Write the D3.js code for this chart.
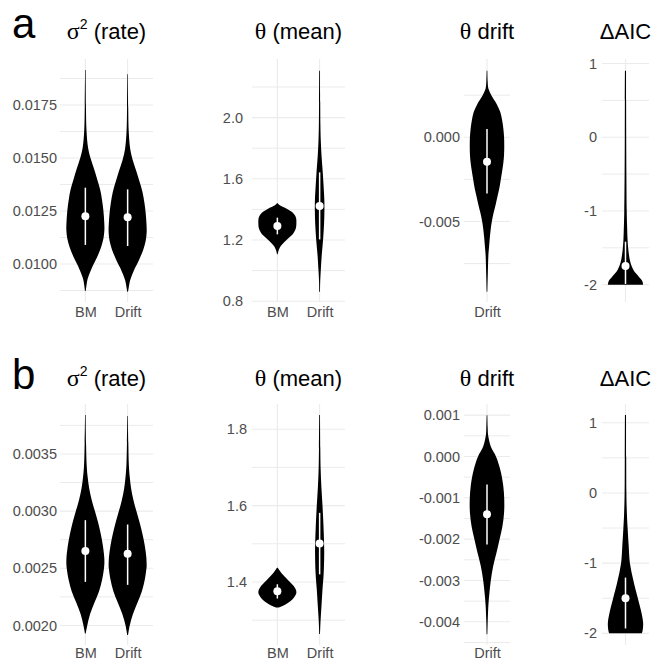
<!DOCTYPE html>
<html>
<head>
<meta charset="utf-8">
<script src="https://cdn.jsdelivr.net/npm/d3@7"></script>
<style>
  body { margin: 0; background: #fff; }
</style>
</head>
<body>
<svg id="fig" width="654" height="661"></svg>
<script>
// ---------- data ----------
// violin outlines: [value, relative half-width]
const rateBM_a = [[0.01915,0.015],[0.0175,0.03],[0.0163,0.06],[0.0155,0.14],[0.0150,0.27],[0.0145,0.45],[0.0140,0.62],[0.0135,0.78],[0.0130,0.88],[0.0125,0.95],[0.0120,0.99],[0.0116,1.0],[0.0112,0.95],[0.0108,0.83],[0.0105,0.70],[0.0102,0.55],[0.0099,0.38],[0.0096,0.24],[0.0093,0.12],[0.0090,0.06],[0.00873,0.02]];
const rateDrift_a = [[0.01895,0.015],[0.0174,0.03],[0.0162,0.06],[0.0154,0.14],[0.0149,0.27],[0.0144,0.45],[0.0139,0.62],[0.0134,0.78],[0.0129,0.88],[0.0124,0.95],[0.0119,0.99],[0.0115,1.0],[0.0111,0.95],[0.0107,0.83],[0.0104,0.70],[0.0101,0.55],[0.0098,0.38],[0.0095,0.24],[0.0092,0.12],[0.0089,0.06],[0.00869,0.02]];
const meanBM_a = [[1.440,0.02],[1.425,0.15],[1.41,0.40],[1.395,0.62],[1.38,0.80],[1.36,0.93],[1.34,0.99],[1.31,1.0],[1.28,0.98],[1.26,0.92],[1.24,0.82],[1.22,0.65],[1.20,0.48],[1.18,0.32],[1.16,0.18],[1.14,0.09],[1.12,0.04],[1.107,0.02]];
const meanDrift_a = [[2.307,0.02],[2.1,0.03],[1.95,0.04],[1.85,0.06],[1.75,0.10],[1.65,0.16],[1.55,0.21],[1.45,0.25],[1.38,0.25],[1.30,0.23],[1.20,0.18],[1.10,0.11],[1.00,0.06],[0.93,0.03],[0.862,0.02]];
const drift_a = [[0.00395,0.02],[0.0033,0.04],[0.0029,0.08],[0.0025,0.25],[0.0020,0.55],[0.0015,0.77],[0.0010,0.88],[0.0005,0.95],[0.0,0.99],[-0.0005,1.0],[-0.0010,0.99],[-0.0015,0.95],[-0.0020,0.88],[-0.0025,0.80],[-0.0030,0.72],[-0.0035,0.61],[-0.0040,0.50],[-0.0045,0.38],[-0.0050,0.28],[-0.0055,0.21],[-0.0060,0.16],[-0.0065,0.12],[-0.0070,0.08],[-0.0080,0.05],[-0.00917,0.02]];
const aic_a = [[0.904,0.03],[0.5,0.035],[0.0,0.04],[-0.5,0.05],[-1.0,0.07],[-1.2,0.09],[-1.4,0.12],[-1.5,0.15],[-1.6,0.20],[-1.7,0.28],[-1.8,0.45],[-1.85,0.60],[-1.9,0.78],[-1.95,0.95],[-2.0,1.0]];

const rateBM_b = [[0.00384,0.015],[0.0036,0.035],[0.0034,0.07],[0.0033,0.12],[0.0032,0.20],[0.0031,0.33],[0.0030,0.50],[0.0029,0.67],[0.0028,0.81],[0.0027,0.92],[0.0026,0.99],[0.00255,1.0],[0.0025,0.98],[0.0024,0.88],[0.0023,0.72],[0.0022,0.48],[0.0021,0.25],[0.0020,0.10],[0.00193,0.02]];
const rateDrift_b = [[0.003833,0.015],[0.0036,0.035],[0.0034,0.065],[0.0033,0.11],[0.0032,0.18],[0.0031,0.30],[0.0030,0.46],[0.0029,0.63],[0.0028,0.78],[0.0027,0.90],[0.0026,0.98],[0.00252,1.0],[0.0025,0.99],[0.0024,0.90],[0.0023,0.75],[0.0022,0.52],[0.0021,0.28],[0.0020,0.11],[0.001916,0.02]];
const meanBM_b = [[1.4375,0.02],[1.430,0.12],[1.420,0.27],[1.410,0.47],[1.400,0.66],[1.390,0.85],[1.380,0.97],[1.372,1.0],[1.365,0.95],[1.355,0.80],[1.345,0.55],[1.338,0.30],[1.333,0.05]];
const meanDrift_b = [[1.837,0.02],[1.75,0.035],[1.70,0.05],[1.65,0.09],[1.60,0.15],[1.55,0.20],[1.50,0.235],[1.47,0.24],[1.42,0.21],[1.38,0.15],[1.34,0.10],[1.30,0.05],[1.2636,0.02]];
const drift_b = [[0.0010,0.02],[0.0007,0.04],[0.0005,0.07],[0.00024,0.22],[0.0,0.52],[-0.00032,0.77],[-0.0007,0.94],[-0.00104,1.0],[-0.00136,0.99],[-0.0017,0.89],[-0.0020,0.73],[-0.00233,0.55],[-0.00265,0.36],[-0.0030,0.22],[-0.0033,0.14],[-0.0036,0.08],[-0.0040,0.04],[-0.0043,0.02]];
const aic_b = [[1.111,0.03],[0.5,0.04],[0.0,0.05],[-0.3,0.08],[-0.5,0.12],[-0.75,0.18],[-1.0,0.25],[-1.25,0.45],[-1.5,0.70],[-1.7,0.90],[-1.85,1.0],[-1.95,0.98],[-2.0,0.93]];

// interval summaries: [lower, median, upper]
const rateStats_a  = {BM: [0.01090, 0.01225, 0.01360], Drift: [0.01085, 0.01220, 0.01352]};
const meanStats_a  = {BM: [1.237, 1.292, 1.346], Drift: [1.204, 1.422, 1.642]};
const driftStats_a = {Drift: [-0.00333, -0.00145, 0.00049]};
const aicStats_a   = {"": [-1.99, -1.746, -1.417]};
const rateStats_b  = {BM: [0.002381, 0.002651, 0.002921], Drift: [0.002355, 0.002628, 0.002883]};
const meanStats_b  = {BM: [1.3567, 1.3757, 1.394], Drift: [1.420, 1.5009, 1.581]};
const driftStats_b = {Drift: [-0.00213, -0.0014, -0.00068]};
const aicStats_b   = {"": [-1.93, -1.5, -1.206]};

const modelCats = ["BM", "Drift"];
const driftCats = ["Drift"];
const aicCats = [""];

// axis ticks
const rateTicks_a = [0.0100, 0.0125, 0.0150, 0.0175];
const rateMinor_a = [0.00875, 0.01125, 0.01375, 0.01625, 0.01875];
const meanTicks_a = [0.8, 1.2, 1.6, 2.0];
const meanMinor_a = [1.0, 1.4, 1.8, 2.2];
const driftTicks_a = [-0.005, 0.000];
const driftMinor_a = [-0.0075, -0.0025, 0.0025];
const aicTicks = [-2, -1, 0, 1];
const aicMinor = [-1.5, -0.5, 0.5];
const rateTicks_b = [0.0020, 0.0025, 0.0030, 0.0035];
const rateMinor_b = [0.00225, 0.00275, 0.00325, 0.00375];
const meanTicks_b = [1.4, 1.6, 1.8];
const meanMinor_b = [1.3, 1.5, 1.7];
const driftTicks_b = [-0.004, -0.003, -0.002, -0.001, 0.000, 0.001];
const driftMinor_b = [-0.0045, -0.0035, -0.0025, -0.0015, -0.0005, 0.0005];

// ---------- layout ----------
const sans = "'Liberation Sans', Arial, Helvetica, sans-serif";
const greek = "'Liberation Serif', 'DejaVu Serif', serif";
const loc = d3.formatLocale({decimal: ".", thousands: ",", grouping: [3], currency: ["", ""], minus: "-"});

const rows = [
  {top: 59, bottom: 302, titleY: 39, tag: "a", tagY: 38, labelPad: 5},
  {top: 404, bottom: 645, titleY: 386, tag: "b", tagY: 389, labelPad: 3}
];
const cols = [{x0: 60, x1: 153}, {x0: 252, x1: 345}, {x0: 464, x1: 510}, {x0: 602, x1: 649}];

const panels = [
  {row: 0, col: 0, title: "rate", cats: modelCats, domain: [0.008208, 0.01967], major: rateTicks_a, minor: rateMinor_a, fmt: ".4f", pad: 3,
   violins: {BM: rateBM_a, Drift: rateDrift_a}, stats: rateStats_a},
  {row: 0, col: 1, title: "mean", cats: modelCats, domain: [0.7948, 2.383], major: meanTicks_a, minor: meanMinor_a, fmt: ".1f", pad: 9,
   violins: {BM: meanBM_a, Drift: meanDrift_a}, stats: meanStats_a},
  {row: 0, col: 2, title: "drift", cats: driftCats, domain: [-0.00978, 0.00465], major: driftTicks_a, minor: driftMinor_a, fmt: ".3f", pad: 4,
   violins: {Drift: drift_a}, stats: driftStats_a},
  {row: 0, col: 3, title: "aic", cats: aicCats, domain: [-2.235, 1.062], major: aicTicks, minor: aicMinor, fmt: "d", pad: 5,
   violins: {"": aic_a}, stats: aicStats_a},
  {row: 1, col: 0, title: "rate", cats: modelCats, domain: [0.001829, 0.003937], major: rateTicks_b, minor: rateMinor_b, fmt: ".4f", pad: 3,
   violins: {BM: rateBM_b, Drift: rateDrift_b}, stats: rateStats_b},
  {row: 1, col: 1, title: "mean", cats: modelCats, domain: [1.235, 1.866], major: meanTicks_b, minor: meanMinor_b, fmt: ".1f", pad: 5,
   violins: {BM: meanBM_b, Drift: meanDrift_b}, stats: meanStats_b},
  {row: 1, col: 2, title: "drift", cats: driftCats, domain: [-0.004561, 0.00127], major: driftTicks_b, minor: driftMinor_b, fmt: ".3f", pad: 4,
   violins: {Drift: drift_b}, stats: driftStats_b},
  {row: 1, col: 3, title: "aic", cats: aicCats, domain: [-2.166, 1.267], major: aicTicks, minor: aicMinor, fmt: "d", pad: 5,
   violins: {"": aic_b}, stats: aicStats_b}
];

const svg = d3.select("#fig");
const gridColor = "#ebebeb";

function addTitle(sel, kind) {
  const t = sel.append("text").attr("text-anchor", "middle").attr("fill", "#000")
    .style("font-family", sans).style("font-size", "22px");
  if (kind === "rate") {
    t.append("tspan").style("font-family", greek).style("font-size", "24px").text("σ");
    t.append("tspan").attr("dy", -10).style("font-size", "14px").text("2");
    t.append("tspan").attr("dy", 10).text(" (rate)");
  } else if (kind === "mean") {
    t.append("tspan").style("font-family", greek).style("font-size", "24px").text("θ");
    t.append("tspan").text(" (mean)");
  } else if (kind === "drift") {
    t.append("tspan").style("font-family", greek).style("font-size", "24px").text("θ");
    t.append("tspan").text(" drift");
  } else {
    t.append("tspan").text("ΔAIC");
  }
  return t;
}

rows.forEach(r => {
  svg.append("text").attr("x", 12).attr("y", r.tagY)
    .style("font-family", sans).style("font-size", "42px").attr("fill", "#000").text(r.tag);
});

panels.forEach(p => {
  const row = rows[p.row], col = cols[p.col];
  const g = svg.append("g");

  const x = d3.scalePoint().domain(p.cats).range([col.x0, col.x1]).padding(0.6);
  const y = d3.scaleLinear().domain(p.domain).range([row.bottom, row.top]);
  const w = d3.scaleLinear().domain([0, 1]).range([0, 0.45 * x.step()]);

  // grid
  g.append("g").selectAll("line").data(p.minor).join("line")
    .attr("x1", col.x0).attr("x2", col.x1)
    .attr("y1", d => y(d)).attr("y2", d => y(d))
    .attr("stroke", gridColor).attr("stroke-width", 1);
  g.append("g").selectAll("line").data(p.major).join("line")
    .attr("x1", col.x0).attr("x2", col.x1)
    .attr("y1", d => y(d)).attr("y2", d => y(d))
    .attr("stroke", gridColor).attr("stroke-width", 1.1);
  g.append("g").selectAll("line").data(p.cats).join("line")
    .attr("x1", d => x(d)).attr("x2", d => x(d))
    .attr("y1", row.top).attr("y2", row.bottom)
    .attr("stroke", gridColor).attr("stroke-width", 1.1);

  // axes
  const yAxis = g.append("g").attr("transform", `translate(${col.x0},0)`)
    .call(d3.axisLeft(y).tickValues(p.major).tickFormat(loc.format(p.fmt)).tickSize(0).tickPadding(p.pad));
  const xAxis = g.append("g").attr("transform", `translate(0,${row.bottom})`)
    .call(d3.axisBottom(x).tickSize(0).tickPadding(row.labelPad));
  [yAxis, xAxis].forEach(a => {
    a.select(".domain").remove();
    a.attr("font-family", sans).attr("font-size", 14.5);
    a.selectAll("text").attr("fill", "#4d4d4d");
  });

  // violins
  const area = d3.area()
    .y(d => y(d[0]))
    .x0(d => 0 - w(d[1]))
    .x1(d => w(d[1]))
    .curve(d3.curveCatmullRom);
  p.cats.forEach(c => {
    const v = g.append("g").attr("transform", `translate(${x(c)},0)`);
    v.append("path").datum(p.violins[c]).attr("d", area).attr("fill", "#000");
    const s = p.stats[c];
    v.append("line").attr("x1", 0).attr("x2", 0)
      .attr("y1", y(s[0])).attr("y2", y(s[2]))
      .attr("stroke", "#fff").attr("stroke-width", 1.5);
    v.append("circle").attr("cx", 0).attr("cy", y(s[1])).attr("r", 4).attr("fill", "#fff");
  });

  addTitle(g, p.title).attr("x", (col.x0 + col.x1) / 2).attr("y", row.titleY);
});
</script>
</body>
</html>
